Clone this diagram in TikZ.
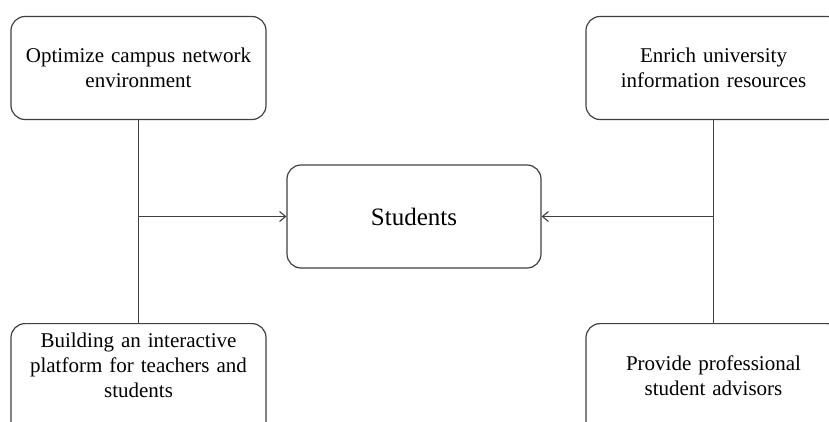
\documentclass[tikz,border=0pt]{standalone}
\usepackage{fontspec}
\setmainfont{Liberation Serif}
\usetikzlibrary{arrows.meta,positioning}
\definecolor{edgegray}{RGB}{64,64,64}

\begin{document}
\begin{tikzpicture}[x=1pt,y=-1pt,
  blockbox/.style={draw=edgegray,line width=1.2pt,rounded corners=14pt,
    minimum width=255pt,minimum height=103pt,text width=245pt,align=center,
    inner sep=4pt,font=\fontsize{21}{25}\selectfont},
  link/.style={draw=edgegray,line width=1.1pt},
  every node/.append style={text=black}]
  \useasboundingbox (0,0) rectangle (829,421);
  % upper blocks
  \node[blockbox] (network) at (138.5,68) {Optimize campus network\\environment};
  \node[blockbox] (resources) at (713.5,68) {Enrich university\\information resources};
  % centre
  \node[blockbox,minimum width=254pt,font=\fontsize{25}{30}\selectfont] (students) at (414,216.5) {Students};
  % lower blocks
  \node[blockbox,anchor=north,minimum height=0pt,text height=20pt,text depth=85pt] (platform) at (138.5,323)
    {Building an interactive\\platform for teachers and\\students};
  \node[blockbox,anchor=north,minimum height=0pt,text height=43pt,text depth=70pt] (advisors) at (713.5,323)
    {Provide professional\\student advisors};
  % connectors
  \coordinate (joinL) at (network.south |- students.west);
  \coordinate (joinR) at (resources.south |- students.east);
  \draw[link] (network.south) -- (platform.north);
  \draw[link] (resources.south) -- (advisors.north);
  \draw[link,-{Straight Barb[length=6pt,width=10pt]}] (joinL) -- (students.west);
  \draw[link,-{Straight Barb[length=6pt,width=10pt]}] (joinR) -- (students.east);
\end{tikzpicture}
\end{document}
